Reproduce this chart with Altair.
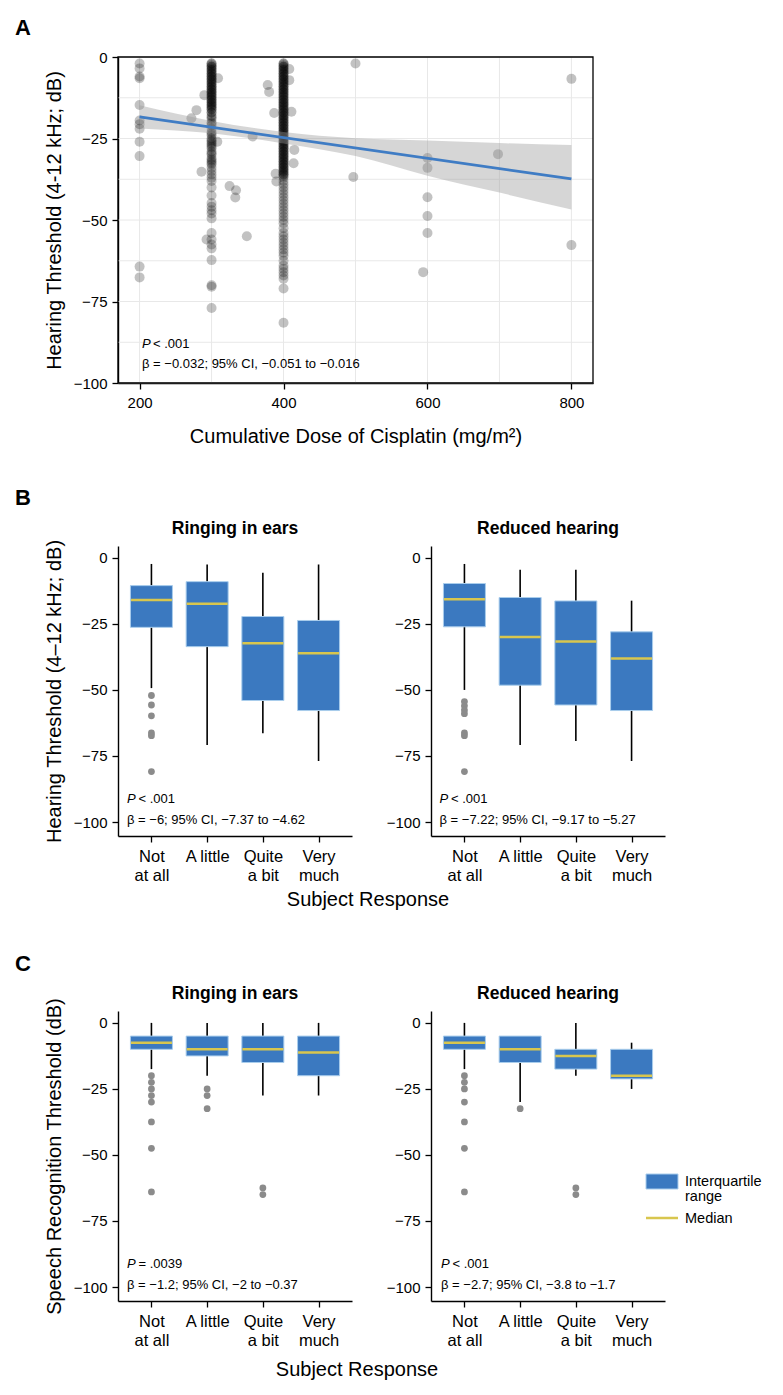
import altair as alt
import pandas as pd

FONT = "Liberation Sans"
BLUE = "#3b79c0"
BOX_EDGE = "#a9cdec"
MED = "#d8c64e"
OUT = "#8b8b8b"
LINE_BLUE = "#3f7cc4"

# ---------------- Panel A data ----------------
a200 = [-2, -3.5, -6, -6.5, -14.7, -19.5, -20.6, -22, -26, -30.4, -64.3, -67.6]
a300 = [-2, -2.5, -3, -3.5, -4, -4.5, -5, -5.5, -6, -6.5, -7, -7.5, -8, -8.5, -9, -9.5,
        -10, -10.5, -11, -11.5, -12, -12.5, -13, -13.5, -14, -14.5, -15, -15.5, -16, -17,
        -2, -3, -4, -5, -6, -7, -8, -9, -10, -11, -12, -13, -14, -15, -16, -17,
        -18, -18.5, -19, -20, -20.5, -21, -22, -23, -23.5, -24, -25, -25.5, -26, -26.5,
        -27, -27.5, -28, -29, -29.5, -30, -31, -31.5, -32, -32.5, -33, -34, -35, -36,
        -37, -38, -40, -42.5, -44.8, -45.9, -47, -48, -49.5, -54, -56, -57.5, -58.7,
        -62.3, -70, -70.5, -77]
a400 = [-2, -2.5, -3, -3.5, -4, -4.5, -5, -5.5, -6, -6.5, -7, -7.5, -8, -8.5, -9, -9.5,
        -10, -10.5, -11, -11.5, -12, -12.5, -13, -13.5, -14, -14.5, -15, -15.5, -16, -16.5,
        -17, -17.5, -18, -18.5, -19, -19.5, -20, -20.5, -21, -21.5, -22, -22.5, -23, -23.5,
        -24, -24.5, -25, -25.5, -26, -26.5, -27, -27.5, -28, -28.5, -29, -29.5, -30, -30.5,
        -31, -31.5, -32, -32.5, -33, -33.5, -34, -34.5, -35, -35.5, -36, -36.5, -37,
        -2, -3, -4, -5, -6, -7, -8, -9, -10, -11, -12, -13, -14, -15, -16, -17, -18, -19,
        -20, -21, -22, -23, -24, -25, -26, -27, -28, -29, -30, -31, -32, -33, -34, -35, -36,
        -38, -39, -40, -41, -42, -43, -44, -45, -46, -47, -48, -49, -50,
        -51, -52.5, -54, -55, -56, -57, -58, -59, -60, -61, -62.5, -64, -65, -66, -67, -68,
        -71, -81.5]
a_other_dose = [272, 279, 286, 290, 293, 309, 308, 325, 334, 333, 349, 357,
                378, 380, 387, 389, 390, 408, 408, 411, 415, 414,
                500, 497, 600, 600, 600, 600, 600, 594, 698, 800, 800]
a_other_thr = [-18.8, -16.3, -35.2, -11.7, -56, -6.5, -26, -39.6, -40.9, -43.1, -55, -24.4,
               -8.6, -10.7, -17.2, -35.8, -38.2, -3.7, -7.1, -16.8, -28.5, -32.6,
               -2, -36.8, -31, -34, -43, -48.8, -54, -66, -29.8, -6.7, -57.7]

fit_dose = [200, 800]
fit_thr = [-18.4, -37.4]
band_dose = [200, 300, 400, 500, 600, 700, 800]
band_lo = [-21.9, -23.4, -26.5, -30.4, -36.4, -41.6, -46.8]
band_hi = [-14.8, -19.6, -23.0, -24.9, -25.6, -26.4, -27.0]

a_grid_x = [200, 300, 400, 500, 600, 700, 800]
a_grid_y = [0, -12.5, -25, -37.5, -50, -62.5, -75, -87.5, -100]
a_ticks_x = [200, 400, 600, 800]
a_ticks_y = [0, -25, -50, -75, -100]

# ---------------- Panels B and C data ----------------
cats = ["Not at all", "A little", "Quite a bit", "Very much"]
cat_lines = {"Not at all": ["Not", "at all"], "A little": ["A little"],
             "Quite a bit": ["Quite", "a bit"], "Very much": ["Very", "much"]}

b_ring = dict(whi=[-2.3, -2.5, -5.6, -2.5], q3=[-10.5, -9, -22.2, -23.7],
              med=[-15.9, -17.4, -32.3, -36.1], q1=[-26.3, -33.6, -54, -57.8],
              wlo=[-49.3, -70.8, -66.4, -76.9])
b_ring_out_cat = ["Not at all"] * 6
b_ring_out_val = [-52.1, -55.7, -59.8, -66.3, -67.3, -80.9]

b_red = dict(whi=[-2.3, -4.5, -4.5, -16.2], q3=[-9.7, -15, -16.3, -28],
             med=[-15.7, -30, -31.7, -38.1], q1=[-26.1, -48.2, -55.7, -57.8],
             wlo=[-50, -70.8, -69.3, -76.9])
b_red_out_cat = ["Not at all"] * 7
b_red_out_val = [-54.4, -56, -57.6, -59, -66.3, -67.3, -80.9]

c_ring = dict(whi=[0, 0, 0, 0], q3=[-5, -5, -5, -5], med=[-7.5, -10, -10, -11.2],
              q1=[-10, -12.5, -15, -20], wlo=[-17.5, -20, -27.5, -27.5])
c_ring_out_cat = ["Not at all"] * 8 + ["A little"] * 3 + ["Quite a bit"] * 2
c_ring_out_val = [-20, -22.5, -25, -27.5, -30, -37.5, -47.5, -64, -25, -27.5, -32.5, -62.5, -65]

c_red = dict(whi=[0, -5, 0, -7.5], q3=[-5, -5, -10, -10], med=[-7.5, -10, -12.5, -20],
             q1=[-10, -15, -17.5, -21.2], wlo=[-17.5, -30, -20, -25])
c_red_out_cat = ["Not at all"] * 7 + ["A little"] + ["Quite a bit"] * 2
c_red_out_val = [-20, -22.5, -25, -30, -37.5, -47.5, -64, -32.5, -62.5, -65]

box_ticks_y = [0, -25, -50, -75, -100]
box_domain = [-105.3, 4.5]

one = pd.DataFrame({"k": [0]})


def txt(s, x, y, size=13, weight="normal", style="normal", align="left"):
    return alt.Chart(one).mark_text(
        text=s, align=align, baseline="alphabetic", fontSize=size, fontWeight=weight,
        fontStyle=style, font=FONT, color="black"
    ).encode(x=alt.value(x), y=alt.value(y))


def spacer(x1, x2, y1, y2):
    return alt.Chart(one).mark_rect(opacity=0).encode(
        x=alt.value(x1), x2=alt.value(x2), y=alt.value(y1), y2=alt.value(y2))


# ---------------- Panel A ----------------
WA, HA = 475, 326
xsA = alt.Scale(domain=[170, 830], nice=False, zero=False)
ysA = alt.Scale(domain=[-100, 0], nice=False, zero=False)
axA_x = alt.Axis(values=a_ticks_x, title="Cumulative Dose of Cisplatin (mg/m²)", grid=False,
                 tickSize=6, labelPadding=6, titlePadding=16, labelFontSize=15,
                 titleFontSize=20)
axA_y = alt.Axis(values=a_ticks_y, title="Hearing Threshold (4-12 kHz; dB)", grid=False,
                 tickSize=6, labelPadding=5, titlePadding=9, labelFontSize=15,
                 titleFontSize=20)

scatter_df = pd.DataFrame({
    "x": [200] * len(a200) + [300] * len(a300) + [400] * len(a400) + a_other_dose,
    "y": a200 + a300 + a400 + a_other_thr,
})
band_df = pd.DataFrame({"x": band_dose, "lo": band_lo, "hi": band_hi})
fit_df = pd.DataFrame({"x": fit_dose, "y": fit_thr})

XA = alt.X("x:Q", scale=xsA, axis=axA_x)
YA = alt.Y("y:Q", scale=ysA, axis=axA_y)

gridx = alt.Chart(pd.DataFrame({"x": a_grid_x})).mark_rule(color="#e8e8e8", strokeWidth=1).encode(x=XA)
gridy = alt.Chart(pd.DataFrame({"y": a_grid_y})).mark_rule(color="#e8e8e8", strokeWidth=1).encode(y=YA)
pts = alt.Chart(scatter_df).mark_circle(size=100, color="black", opacity=0.24).encode(x=XA, y=YA)
band = alt.Chart(band_df).mark_area(color="#999999", opacity=0.4, interpolate="monotone").encode(
    x=XA, y=alt.Y("lo:Q", scale=ysA, axis=axA_y), y2="hi:Q")
fit = alt.Chart(fit_df).mark_line(color=LINE_BLUE, strokeWidth=2.8).encode(x=XA, y=YA)
frame = alt.Chart(one).mark_rect(fillOpacity=0, stroke="black", strokeWidth=1.3).encode(
    x=alt.value(0), x2=alt.value(WA), y=alt.value(0), y2=alt.value(HA))

panelA = alt.layer(
    spacer(-110, 0, -49, 413), gridx, gridy, pts, band, fit, frame,
    txt("P", 24, 291, style="italic"), txt("< .001", 35, 291),
    txt("β = −0.032; 95% CI, −0.051 to −0.016", 24, 311),
    txt("A", -103, -22, size=22, weight="bold"),
).properties(width=WA, height=HA)

# ---------------- Panels B / C ----------------
WB, HB = 234, 290
label_expr = " : ".join(
    f"datum.value == '{k}' ? [{', '.join(repr(s) for s in v)}]" for k, v in cat_lines.items()
) + " : datum.label"


def box_panel(stats, out_cat, out_val, title, ytitle, p_rest, beta, px, extra):
    st = pd.DataFrame({"cat": cats, **stats})
    od = pd.DataFrame({"cat": out_cat, "v": out_val})
    X = alt.X("cat:N", sort=cats,
              scale=alt.Scale(type="point", domain=cats, padding=0.6),
              axis=alt.Axis(title=None, labelExpr=label_expr, labelAngle=0, tickSize=6,
                            labelPadding=6, labelFontSize=16.5, labelLineHeight=19,
                            grid=False))
    ax_y = alt.Axis(values=box_ticks_y, title=ytitle, grid=False, tickSize=6,
                    labelPadding=5, titlePadding=9, labelFontSize=15, titleFontSize=20)
    ys = alt.Scale(domain=box_domain, nice=False, zero=False)
    whisk = alt.Chart(st).mark_rule(color="black", strokeWidth=1.6).encode(
        x=X, y=alt.Y("wlo:Q", scale=ys, axis=ax_y), y2="whi:Q")
    box = alt.Chart(st).mark_bar(size=42, color=BLUE, stroke=BOX_EDGE, strokeWidth=1).encode(
        x=X, y=alt.Y("q1:Q", scale=ys, axis=ax_y), y2="q3:Q")
    med = alt.Chart(st).mark_tick(size=41, thickness=2.5, color=MED, opacity=1).encode(
        x=X, y=alt.Y("med:Q", scale=ys, axis=ax_y))
    outs = alt.Chart(od).mark_circle(size=46, color=OUT, opacity=1).encode(
        x=X, y=alt.Y("v:Q", scale=ys, axis=ax_y))
    layers = extra[:1] + [whisk, box, med, outs,
              txt(title, WB / 2, -12, size=17.5, weight="bold", align="center"),
              txt("P", px, 257, style="italic"), txt(p_rest, px + 11.5, 257),
              txt(beta, px, 278)] + extra[1:]
    return alt.layer(*layers).properties(width=WB, height=HB)


yt_B = "Hearing Threshold (4–12 kHz; dB)"
yt_C = "Speech Recognition Threshold (dB)"

B_left = box_panel(b_ring, b_ring_out_cat, b_ring_out_val, "Ringing in ears", yt_B,
                   "< .001", "β = −6; 95% CI, −7.37 to −4.62", 9,
                   [spacer(-110, 0, -76, 394),
                    txt("Subject Response", 250, 360, size=20, align="center"),
                    txt("B", -103, -41, size=22, weight="bold")])
B_right = box_panel(b_red, b_red_out_cat, b_red_out_val, "Reduced hearing", None,
                    "< .001", "β = −7.22; 95% CI, −9.17 to −5.27", 8.5, [])

legend = [
    alt.Chart(one).mark_rect(color=BLUE, stroke=BOX_EDGE, strokeWidth=1).encode(
        x=alt.value(215), x2=alt.value(247), y=alt.value(163), y2=alt.value(178)),
    alt.Chart(one).mark_rule(color=MED, strokeWidth=2.5).encode(
        x=alt.value(215), x2=alt.value(247), y=alt.value(207)),
    txt("Interquartile", 254, 175, size=14.5),
    txt("range", 254, 190, size=14.5),
    txt("Median", 254, 212, size=14.5),
]

C_left = box_panel(c_ring, c_ring_out_cat, c_ring_out_val, "Ringing in ears", yt_C,
                   "= .0039", "β = −1.2; 95% CI, −2 to −0.37", 9,
                   [spacer(-110, 0, -71, 379),
                    txt("Subject Response", 239, 365, size=20, align="center"),
                    txt("C", -103, -40, size=22, weight="bold")])
C_right = box_panel(c_red, c_red_out_cat, c_red_out_val, "Reduced hearing", None,
                    "< .001", "β = −2.7; 95% CI, −3.8 to −1.7", 10, [])
C_right = alt.layer(C_right, *legend)

rowB = alt.hconcat(B_left, B_right, spacing=79, bounds="flush")
rowC = alt.hconcat(C_left, C_right, spacing=79, bounds="flush")

chart = alt.vconcat(panelA, rowB, rowC, spacing=0).properties(
    padding={"left": 0, "top": 0, "right": 6, "bottom": 0},
    background="white",
).configure_view(stroke=None).configure_axis(
    labelFont=FONT, titleFont=FONT, labelColor="black", titleColor="black",
    domainColor="black", tickColor="black", domainWidth=1.4, tickWidth=1.3,
    titleFontWeight="normal",
)

chart.save("out.html", embed_options={"renderer": "svg", "actions": False})
